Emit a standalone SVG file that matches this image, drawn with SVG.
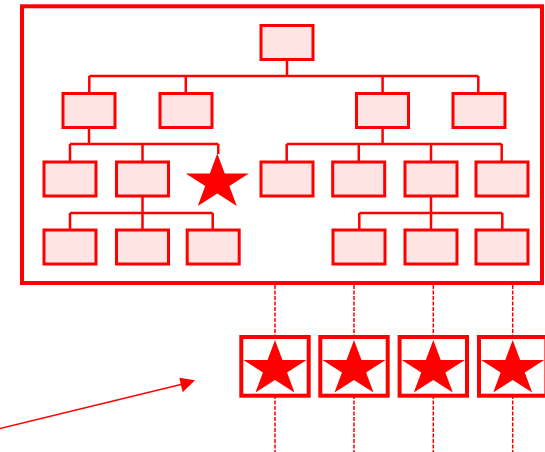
<svg xmlns="http://www.w3.org/2000/svg" xmlns:xlink="http://www.w3.org/1999/xlink" width="545" height="452" viewBox="0 0 545 452">
<style>
.node{fill:#ffe4e4;stroke:#ff0000;stroke-width:3}
.conn{fill:none;stroke:#ff0000;stroke-width:2.5}
.frame{fill:none;stroke:#ff0000;stroke-width:4}
.sbox{fill:#ffffff;stroke:#ff0000;stroke-width:4}
.dash{fill:none;stroke:#ff0000;stroke-width:1.5;stroke-dasharray:4 1.5}
.star{fill:#ff0000}
</style>
<defs>
<polygon id="star" points="0,-29 7.45,-8.96 31.58,-8.96 12.07,3.42 19.52,23.46 0,11.08 -19.52,23.46 -12.07,3.42 -31.58,-8.96 -7.45,-8.96"/>
</defs>
<rect id="frame" class="frame" x="22" y="6.3" width="520" height="276.7"/>
<g id="connectors">
<path class="conn" d="M287 59.5V76M89.3 76H478.3M89.3 76V93.5M185.8 76V93.5M382.6 76V93.5M478.3 76V93.5"/>
<path class="conn" d="M89 127.5V144M70 144H218.3M70 144V162M142.5 144V162M218.3 144V154"/>
<path class="conn" d="M382.6 127.5V144M286.7 144H501.7M286.7 144V162M358.8 144V162M431 144V162M501.7 144V162"/>
<path class="conn" d="M142.5 196V213M70 213H212.7M70 213V230M142.5 213V230M212.7 213V230"/>
<path class="conn" d="M431 196V213M359.3 213H502.3M359.3 213V230M431 213V230M502.3 213V230"/>
<path class="dash" d="M275 285V452M354 285V452M433.3 285V452M512.7 285V452"/>
<path fill="none" stroke="#ff0000" stroke-width="1.5" d="M-2 429L183 384"/>
<polygon fill="#ff0000" points="195,380.3 179.3,377.7 182.7,392.3"/>
</g>
<g id="n0"><rect class="node" x="261" y="25.5" width="52" height="34"/></g>
<g id="n1"><rect class="node" x="63" y="93.5" width="52" height="34"/></g>
<g id="n2"><rect class="node" x="160" y="93.5" width="52" height="34"/></g>
<g id="n3"><rect class="node" x="356.5" y="93.5" width="52" height="34"/></g>
<g id="n4"><rect class="node" x="453" y="93.5" width="52" height="34"/></g>
<g id="n5"><rect class="node" x="44" y="162" width="52" height="34"/></g>
<g id="n6"><rect class="node" x="116.5" y="162" width="52" height="34"/></g>
<g id="n7"><use href="#star" xlink:href="#star" class="star" transform="translate(217.3 182.5)"/></g>
<g id="n8"><rect class="node" x="261" y="162" width="52" height="34"/></g>
<g id="n9"><rect class="node" x="332.7" y="162" width="52" height="34"/></g>
<g id="n10"><rect class="node" x="405" y="162" width="52" height="34"/></g>
<g id="n11"><rect class="node" x="476" y="162" width="52" height="34"/></g>
<g id="n12"><rect class="node" x="44" y="230" width="52" height="34"/></g>
<g id="n13"><rect class="node" x="116.5" y="230" width="52" height="34"/></g>
<g id="n14"><rect class="node" x="187.2" y="230" width="52" height="34"/></g>
<g id="n15"><rect class="node" x="333" y="230" width="52" height="34"/></g>
<g id="n16"><rect class="node" x="405" y="230" width="52" height="34"/></g>
<g id="n17"><rect class="node" x="476" y="230" width="52" height="34"/></g>
<g id="s1"><rect class="sbox" x="241.3" y="337" width="67.4" height="58.7"/><use href="#star" xlink:href="#star" class="star" transform="translate(275 369)"/></g>
<g id="s2"><rect class="sbox" x="320.3" y="337" width="67.4" height="58.7"/><use href="#star" xlink:href="#star" class="star" transform="translate(354 369)"/></g>
<g id="s3"><rect class="sbox" x="399.6" y="337" width="67.4" height="58.7"/><use href="#star" xlink:href="#star" class="star" transform="translate(433.3 369)"/></g>
<g id="s4"><rect class="sbox" x="479" y="337" width="67.4" height="58.7"/><use href="#star" xlink:href="#star" class="star" transform="translate(512.7 369)"/></g>
</svg>
